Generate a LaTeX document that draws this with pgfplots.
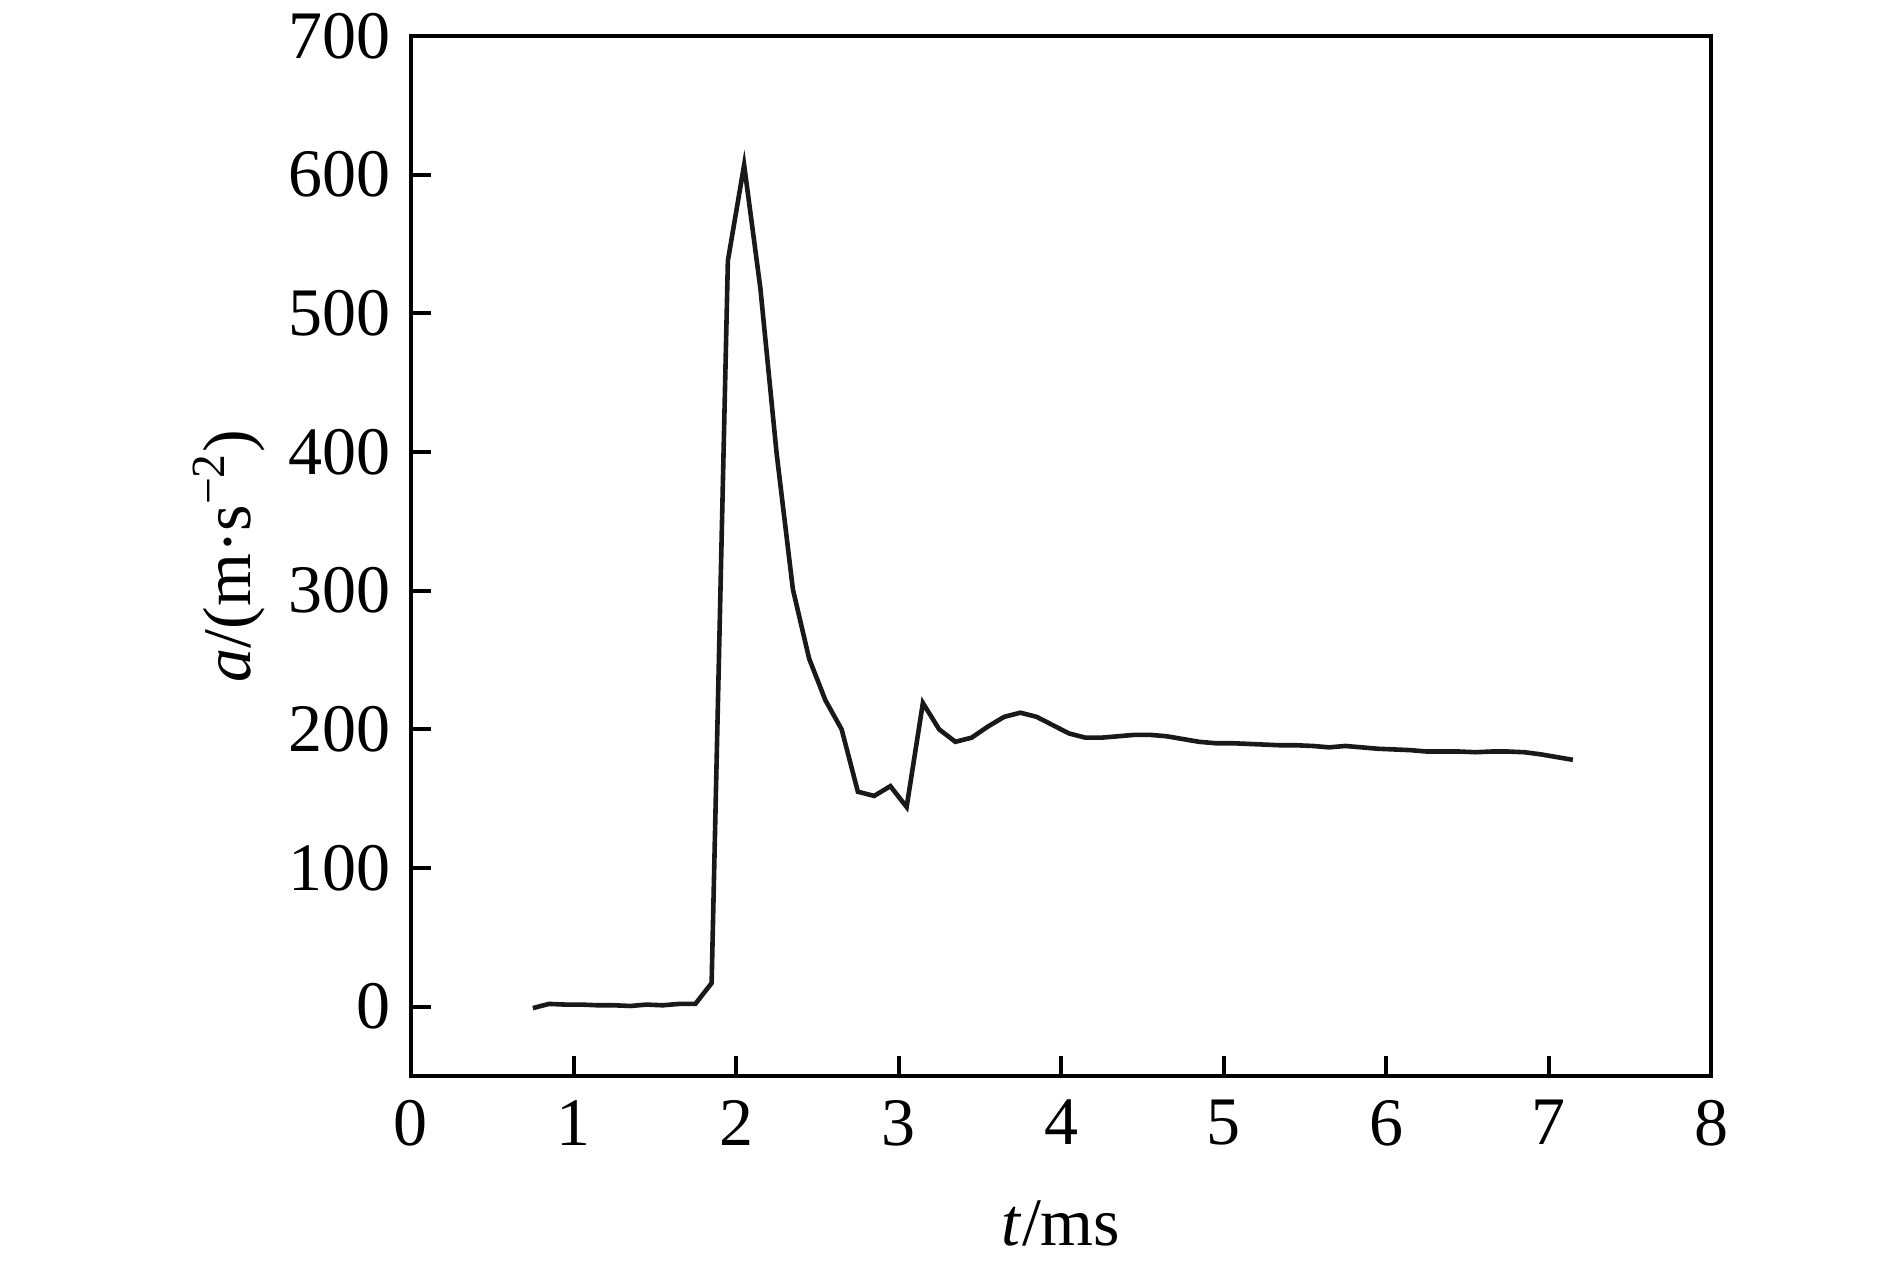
\documentclass[border=0pt]{standalone}
\usepackage{fontspec}
\setmainfont{Liberation Serif}
\usepackage{pgfplots}
\pgfplotsset{compat=1.18}

\begin{document}
\begin{tikzpicture}
\begin{axis}[
  scale only axis,
  width=325pt, height=260pt,
  xmin=0, xmax=8,
  ymin=-50, ymax=700,
  xtick={0,1,...,8},
  ytick={0,100,...,700},
  tick align=inside,
  xtick pos=bottom,
  ytick pos=left,
  major tick length=5pt,
  tick style={line width=1pt, black},
  axis line style={line width=1pt, black},
  /pgf/number format/assume math mode=true,
  tick label style={font=\fontsize{17}{19}\selectfont},
  label style={font=\fontsize{17}{19}\selectfont},
  yticklabel style={xshift=-1.5pt},
  xticklabel style={yshift=-2.5pt},
  xlabel={\textit{t}/ms},
  ylabel={\textit{a}/(m·s\textsuperscript{\char"2212 2})},
  xlabel style={at={(axis description cs:0.5,0)}, anchor=center, yshift=-36.75pt},
  ylabel style={at={(axis description cs:0,0.5)}, anchor=center, yshift=45.5pt},
]
\addplot[black!90, line width=1.15pt, line join=miter] table {
t a
0.75 -1
0.85 2
0.95 1.5
1.05 1.5
1.15 1
1.25 1
1.35 0.5
1.45 1.5
1.55 1
1.65 2
1.75 2
1.85 17
1.95 538
2.05 607
2.15 518
2.25 399
2.35 301
2.45 251
2.55 221
2.65 200
2.75 155
2.85 152
2.95 159
3.05 144
3.15 219
3.25 200
3.35 191
3.45 194
3.55 202
3.65 209
3.75 212
3.85 209
3.95 203
4.05 197
4.15 194
4.25 194
4.35 195
4.45 196
4.55 196
4.65 195
4.75 193
4.85 191
4.95 190
5.05 190
5.15 189.5
5.25 189
5.35 188.5
5.45 188.5
5.55 188
5.65 187
5.75 188
5.85 187
5.95 186
6.05 185.5
6.15 185
6.25 184
6.35 184
6.45 184
6.55 183.5
6.65 184
6.75 184
6.85 183.5
6.95 182
7.05 180
7.15 178
};
\end{axis}
\pgfresetboundingbox
\path (-102.75pt,-46.5pt) rectangle (369.75pt,269pt);
\end{tikzpicture}
\end{document}
